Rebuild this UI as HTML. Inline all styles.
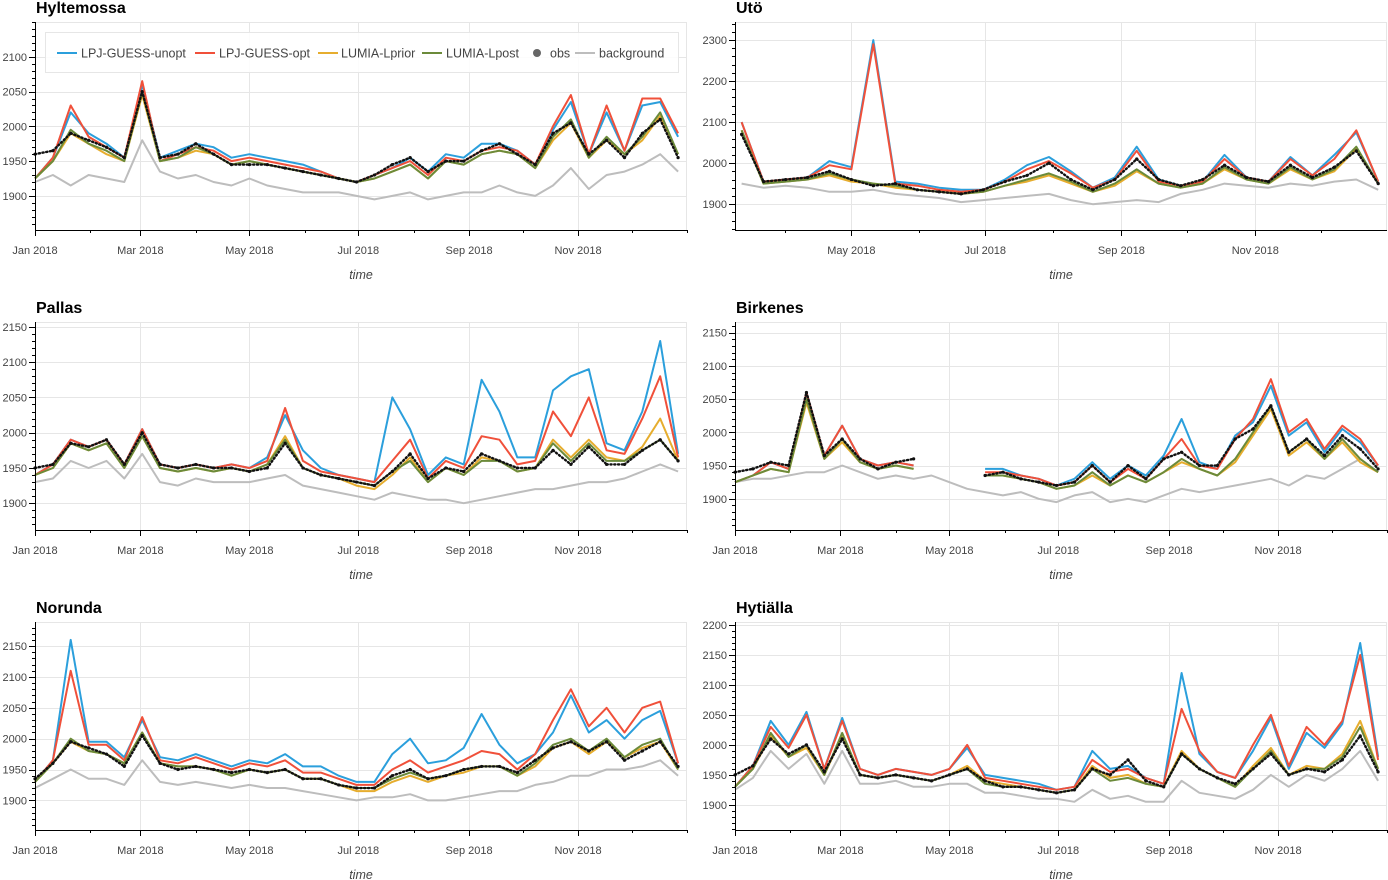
<!DOCTYPE html>
<html><head><meta charset="utf-8">
<style>
html,body{margin:0;padding:0;background:#fff;}
svg{display:block;font-family:"Liberation Sans",sans-serif;}
</style></head>
<body>
<svg id="chart" width="1388" height="880" viewBox="0 0 1388 880" xmlns="http://www.w3.org/2000/svg"></svg>
<script>
// ---- data (day-of-year grids) ----
const daysFull = [0,10,20,30,40,50,60,70,80,90,100,110,120,130,140,150,160,170,180,190,200,210,220,230,240,250,260,270,280,290,300,310,320,330,340,350,360];
const daysUto = [70,80,90,100,110,120,130,140,150,160,170,180,190,200,210,220,230,240,250,260,270,280,290,300,310,320,330,340,350,360];
const monthStarts = [0,31,59,90,120,151,181,212,243,273,304,334,365];
const monthLabels = ["Jan 2018","","Mar 2018","","May 2018","","Jul 2018","","Sep 2018","","Nov 2018","",""];
const seriesNames = ["LPJ-GUESS-unopt","LPJ-GUESS-opt","LUMIA-Lprior","LUMIA-Lpost","obs","background"];

const hylUnopt=[1925,1955,2020,1990,1975,1955,2060,1955,1965,1975,1970,1955,1960,1955,1950,1945,1935,1925,1920,1930,1940,1955,1935,1960,1955,1975,1975,1965,1945,1995,2035,1960,2020,1965,2030,2035,1985];
const hylOpt=[1925,1955,2030,1985,1970,1955,2065,1950,1960,1970,1965,1950,1955,1950,1945,1940,1935,1925,1920,1930,1940,1950,1930,1955,1950,1965,1970,1965,1945,2000,2045,1960,2030,1965,2040,2040,1990];
const hylPrior=[1925,1950,1990,1975,1960,1950,2045,1950,1955,1965,1960,1945,1950,1945,1940,1935,1930,1925,1920,1925,1935,1945,1925,1950,1945,1960,1965,1960,1940,1980,2005,1955,1980,1960,1980,2015,1960];
const hylPost=[1925,1950,1995,1975,1965,1950,2050,1950,1955,1970,1960,1945,1950,1945,1940,1935,1930,1925,1920,1925,1935,1945,1925,1950,1945,1960,1965,1960,1940,1985,2010,1955,1985,1960,1985,2020,1960];
const hylObs=[1960,1965,1990,1980,1970,1955,2050,1955,1960,1975,1960,1945,1945,1945,1940,1935,1930,1925,1920,1930,1945,1955,1935,1950,1950,1965,1975,1960,1945,1990,2005,1960,1980,1955,1990,2010,1955];
const hylBg=[1920,1930,1915,1930,1925,1920,1980,1935,1925,1930,1920,1915,1925,1915,1910,1905,1905,1905,1900,1895,1900,1905,1895,1900,1905,1905,1915,1905,1900,1915,1940,1910,1930,1935,1945,1960,1935];

const utoUnopt=[2100,1955,1960,1965,2005,1990,2300,1955,1950,1940,1935,1935,1960,1995,2015,1980,1940,1965,2040,1960,1945,1955,2020,1965,1955,2015,1970,2020,2075,1955];
const utoOpt=[2100,1955,1960,1965,1995,1985,2290,1950,1945,1935,1930,1935,1955,1985,2005,1975,1940,1960,2030,1955,1945,1955,2010,1965,1955,2010,1970,2010,2080,1955];
const utoPrior=[2080,1950,1955,1960,1970,1955,1950,1940,1935,1930,1925,1930,1945,1955,1970,1950,1930,1945,1980,1950,1940,1950,1985,1960,1950,1985,1960,1980,2035,1950];
const utoPost=[2080,1950,1955,1960,1975,1960,1950,1945,1935,1930,1925,1930,1945,1960,1975,1955,1930,1950,1985,1950,1940,1950,1990,1960,1950,1990,1960,1985,2040,1950];
const utoObs=[2070,1955,1960,1965,1980,1960,1945,1950,1935,1930,1925,1935,1955,1970,2000,1960,1935,1960,2010,1960,1945,1960,1995,1965,1955,1995,1965,1990,2030,1950];
const utoBg=[1950,1940,1945,1940,1930,1930,1935,1925,1920,1915,1905,1910,1915,1920,1925,1910,1900,1905,1910,1905,1925,1935,1950,1945,1940,1950,1945,1955,1960,1935];

const palUnopt=[1940,1955,1990,1980,1990,1955,2005,1955,1950,1955,1950,1955,1950,1965,2025,1975,1950,1940,1935,1930,2050,2005,1940,1965,1955,2075,2030,1965,1965,2060,2080,2090,1985,1975,2030,2130,1970];
const palOpt=[1940,1955,1990,1980,1990,1955,2005,1955,1950,1955,1950,1955,1950,1960,2035,1960,1945,1940,1935,1930,1960,1990,1935,1960,1950,1995,1990,1955,1960,2030,1995,2050,1975,1970,2020,2080,1965];
const palPrior=[1940,1950,1985,1975,1985,1950,1995,1950,1945,1950,1945,1950,1945,1955,1995,1950,1940,1935,1925,1920,1940,1965,1930,1950,1940,1965,1960,1945,1950,1990,1965,1990,1965,1960,1980,2020,1960];
const palPost=[1940,1950,1985,1975,1985,1950,1995,1950,1945,1950,1945,1950,1945,1955,1990,1950,1940,1935,1930,1925,1945,1960,1930,1950,1940,1960,1960,1945,1950,1985,1960,1985,1960,1960,1975,1990,1960];
const palObs=[1950,1955,1985,1980,1990,1955,2000,1955,1950,1955,1950,1950,1945,1950,1985,1950,1940,1935,1930,1925,1945,1970,1935,1950,1945,1970,1960,1950,1950,1975,1955,1980,1955,1955,1975,1990,1960];
const palBg=[1930,1935,1960,1950,1960,1935,1970,1930,1925,1935,1930,1930,1930,1935,1940,1925,1920,1915,1910,1905,1915,1910,1905,1905,1900,1905,1910,1915,1920,1920,1925,1930,1930,1935,1945,1955,1945];

const birUnopt=[1925,1935,1955,1945,2060,1965,2010,1960,1950,1955,1950,null,null,null,1945,1945,1935,1930,1920,1930,1955,1930,1950,1935,1965,2020,1955,1945,1995,2015,2070,1995,2015,1970,2005,1985,1950];
const birOpt=[1925,1935,1955,1945,2060,1965,2010,1960,1950,1955,1950,null,null,null,1940,1940,1935,1930,1920,1925,1950,1925,1945,1930,1960,1990,1950,1945,1990,2020,2080,2000,2020,1975,2010,1990,1950];
const birPrior=[1925,1935,1945,1940,2045,1960,1985,1955,1945,1950,1945,null,null,null,1935,1935,1930,1925,1915,1920,1935,1920,1935,1925,1940,1955,1945,1935,1955,1995,2035,1965,1985,1960,1985,1955,1940];
const birPost=[1925,1935,1945,1940,2050,1960,1990,1955,1945,1950,1945,null,null,null,1935,1935,1930,1925,1915,1920,1940,1920,1935,1925,1940,1960,1945,1935,1960,2000,2040,1970,1990,1960,1990,1960,1940];
const birObs=[1940,1945,1955,1950,2060,1965,1990,1960,1945,1955,1960,null,null,null,1935,1940,1930,1925,1920,1925,1950,1925,1950,1930,1960,1970,1950,1950,1990,2005,2040,1970,1990,1965,1995,1975,1945];
const birBg=[1925,1930,1930,1935,1940,1940,1950,1940,1930,1935,1930,1935,1925,1915,1910,1905,1910,1900,1895,1905,1910,1895,1900,1895,1905,1915,1910,1915,1920,1925,1930,1920,1935,1930,1945,1960,1940];

const norUnopt=[1930,1965,2160,1995,1995,1970,2030,1970,1965,1975,1965,1955,1965,1960,1975,1955,1955,1940,1930,1930,1975,2000,1960,1965,1985,2040,1990,1960,1975,2010,2070,2010,2030,2000,2030,2045,1960];
const norOpt=[1930,1965,2110,1990,1990,1965,2035,1965,1960,1970,1960,1950,1960,1955,1965,1945,1945,1935,1925,1925,1950,1965,1945,1955,1965,1980,1975,1950,1975,2030,2080,2020,2050,2010,2050,2060,1960];
const norPrior=[1930,1960,1995,1980,1975,1960,2010,1960,1955,1955,1950,1940,1950,1945,1950,1935,1935,1925,1915,1915,1930,1940,1930,1940,1945,1955,1955,1940,1955,1985,1995,1975,1995,1970,1985,1995,1950];
const norPost=[1930,1960,2000,1980,1975,1960,2010,1960,1955,1955,1950,1940,1950,1945,1950,1935,1935,1925,1920,1920,1935,1945,1935,1940,1950,1955,1955,1940,1960,1990,2000,1980,2000,1970,1990,2000,1950];
const norObs=[1935,1960,1995,1985,1975,1955,2005,1960,1950,1955,1950,1945,1950,1945,1950,1935,1935,1925,1920,1920,1940,1950,1935,1940,1950,1955,1955,1945,1965,1985,1995,1980,1995,1965,1980,1995,1955];
const norBg=[1920,1935,1950,1935,1935,1925,1965,1930,1925,1930,1925,1920,1925,1920,1920,1915,1910,1905,1900,1905,1905,1910,1900,1900,1905,1910,1915,1915,1925,1930,1940,1940,1950,1950,1955,1965,1940];

const hytUnopt=[1930,1965,2040,2000,2055,1960,2045,1960,1950,1960,1955,1950,1960,1995,1950,1945,1940,1935,1925,1930,1990,1960,1965,1945,1935,2120,1985,1955,1945,1990,2045,1960,2020,1995,2035,2170,1980];
const hytOpt=[1930,1965,2030,1995,2050,1960,2040,1960,1950,1960,1955,1950,1960,2000,1945,1940,1935,1930,1925,1930,1975,1955,1960,1945,1935,2060,1990,1955,1945,2000,2050,1965,2030,2000,2040,2150,1975];
const hytPrior=[1930,1960,2015,1980,1995,1950,2015,1950,1945,1950,1945,1940,1950,1965,1940,1935,1930,1925,1920,1925,1965,1945,1950,1935,1930,1990,1960,1945,1930,1965,1995,1950,1965,1960,1985,2040,1960];
const hytPost=[1930,1960,2020,1980,2000,1950,2020,1950,1945,1950,1945,1940,1950,1960,1935,1930,1930,1925,1920,1925,1960,1940,1945,1935,1930,1985,1960,1945,1930,1960,1990,1950,1960,1960,1980,2030,1960];
const hytObs=[1950,1965,2010,1985,2000,1955,2010,1950,1945,1950,1945,1940,1950,1960,1940,1930,1930,1925,1920,1925,1960,1950,1975,1940,1930,1985,1960,1945,1935,1960,1985,1950,1960,1955,1975,2015,1955];
const hytBg=[1925,1945,1990,1960,1985,1935,1990,1935,1935,1940,1930,1930,1935,1935,1920,1920,1915,1910,1910,1905,1925,1910,1915,1905,1905,1940,1920,1915,1910,1925,1950,1930,1950,1940,1960,1990,1940];

const hylTicks=[1900,1950,2000,2050,2100];
const utoTicks=[1900,2000,2100,2200,2300];
const palTicks=[1900,1950,2000,2050,2100,2150];
const birTicks=[1900,1950,2000,2050,2100,2150];
const norTicks=[1900,1950,2000,2050,2100,2150];
const hytTicks=[1900,1950,2000,2050,2100,2150,2200];

// ---- rendering ----
const svg=document.getElementById('chart');
const NS='http://www.w3.org/2000/svg';
function mk(tag,attrs,parent){const e=document.createElementNS(NS,tag);for(const k in attrs)e.setAttribute(k,attrs[k]);(parent||svg).appendChild(e);return e;}
const colors=['#2b9fdc','#f0503a','#e6ad2e','#6b8a3a','#111','#bdbdbd'];

const panels=[
 {name:'Hyltemossa',slug:'hyltemossa',x0:35,x1:687,y0:22,y1:230,d0:0,d1:365,v0:1851,v1:2150,minor:10,days:daysFull,ticks:hylTicks,s:[hylUnopt,hylOpt,hylPrior,hylPost,hylObs,hylBg],legend:true},
 {name:'Utö',slug:'uto',x0:735,x1:1387,y0:22,y1:230,d0:67,d1:364,v0:1837,v1:2344,minor:20,days:daysUto,ticks:utoTicks,s:[utoUnopt,utoOpt,utoPrior,utoPost,utoObs,utoBg]},
 {name:'Pallas',slug:'pallas',x0:35,x1:687,y0:322,y1:530,d0:0,d1:365,v0:1862,v1:2157,minor:10,days:daysFull,ticks:palTicks,s:[palUnopt,palOpt,palPrior,palPost,palObs,palBg]},
 {name:'Birkenes',slug:'birkenes',x0:735,x1:1387,y0:322,y1:530,d0:0,d1:365,v0:1853,v1:2166,minor:10,days:daysFull,ticks:birTicks,s:[birUnopt,birOpt,birPrior,birPost,birObs,birBg]},
 {name:'Norunda',slug:'norunda',x0:35,x1:687,y0:622,y1:830,d0:0,d1:365,v0:1852,v1:2189,minor:10,days:daysFull,ticks:norTicks,s:[norUnopt,norOpt,norPrior,norPost,norObs,norBg]},
 {name:'Hytiälla',slug:'hytialla',x0:735,x1:1387,y0:622,y1:830,d0:0,d1:365,v0:1858,v1:2205,minor:10,days:daysFull,ticks:hytTicks,s:[hytUnopt,hytOpt,hytPrior,hytPost,hytObs,hytBg]}
];

panels.forEach(p=>{
  const g=mk('g',{});
  
  
  const X=d=>p.x0+(d-p.d0)/(p.d1-p.d0)*(p.x1-p.x0);
  const Y=v=>p.y1-(v-p.v0)/(p.v1-p.v0)*(p.y1-p.y0);
  // plot background + grid
  const grid=mk('g',{stroke:'#e6e6e6','stroke-width':1},g);
  
  
  p.ticks.forEach(v=>{const y=Math.round(Y(v))+0.5;mk('line',{x1:p.x0,x2:p.x1,y1:y,y2:y},grid);});
  mk('line',{x1:p.x0,x2:p.x1,y1:p.y0+0.5,y2:p.y0+0.5},grid);
  mk('line',{x1:p.x1-0.5,x2:p.x1-0.5,y1:p.y0,y2:p.y1},grid);
  monthStarts.forEach((m,i)=>{if(monthLabels[i]&&m>=p.d0&&m<=p.d1){const x=Math.round(X(m))+0.5;mk('line',{x1:x,x2:x,y1:p.y0,y2:p.y1},grid);}});
  // series
  const order=[5,0,1,2,3];
  order.forEach(si=>{
    const arr=p.s[si];
    let segs=[],cur=[];
    arr.forEach((v,i)=>{
      if(v===null){ if(si!==5){if(cur.length)segs.push(cur);cur=[];} return; }
      cur.push(X(p.days[i]).toFixed(1)+','+Y(v).toFixed(1));
    });
    if(cur.length)segs.push(cur);
    segs.forEach(sg=>{
      const pl=mk('polyline',{points:sg.join(' '),fill:'none',stroke:colors[si],'stroke-width':2,'stroke-linejoin':'round'},g);
      
      
    });
  });
  // obs dots
  const og=mk('g',{fill:'#111'},g);
  
  
  let prev=null;
  p.s[4].forEach((v,i)=>{
    if(v===null){prev=null;return;}
    const pt=[X(p.days[i]),Y(v)];
    if(prev){
      const seg=mk('line',{x1:prev[0],y1:prev[1],x2:pt[0],y2:pt[1],stroke:'#111','stroke-width':2.4,'stroke-dasharray':'1.2 2.6','stroke-linecap':'round'},og);
      
      
    }
    const c=mk('circle',{cx:pt[0],cy:pt[1],r:1.6},og);
    
    
    prev=pt;
  });
  // axes
  const ax=mk('g',{stroke:'#000','stroke-width':1},g);
  
  
  mk('line',{x1:p.x0+0.5,x2:p.x0+0.5,y1:p.y0,y2:p.y1},ax);
  mk('line',{x1:p.x0,x2:p.x1,y1:p.y1+0.5,y2:p.y1+0.5},ax);
  for(let v=Math.ceil(p.v0/p.minor)*p.minor;v<=p.v1;v+=p.minor){
    const y=Math.round(Y(v))+0.5;
    const major=p.ticks.indexOf(v)>=0;
    mk('line',{x1:p.x0-(major?6:3),x2:p.x0,y1:y,y2:y},ax);
  }
  monthStarts.forEach((m,i)=>{if(m>=p.d0&&m<=p.d1){const x=Math.round(X(m))+0.5;mk('line',{x1:x,x2:x,y1:p.y1,y2:p.y1+(monthLabels[i]?6:3)},ax);}});
  // tick labels
  p.ticks.forEach(v=>{
    const t=mk('text',{x:p.x0-8,y:Y(v)+4,'text-anchor':'end','font-size':11,fill:'#444'},g);
    t.textContent=v;
    
    
  });
  monthStarts.forEach((m,i)=>{
    if(monthLabels[i]&&m>=p.d0&&m<=p.d1){
      const t=mk('text',{x:X(m),y:p.y1+24,'text-anchor':'middle','font-size':11,fill:'#444'},g);
      t.textContent=monthLabels[i];
      
      
    }
  });
  const xt=mk('text',{x:(p.x0+p.x1)/2,y:p.y1+49,'text-anchor':'middle','font-size':12.5,'font-style':'italic',fill:'#444'},g);
  xt.textContent='time';
  
  
  const tt=mk('text',{x:p.x0+1,y:p.y0-9,'font-size':16,'font-weight':'bold',fill:'#000'},g);
  tt.textContent=p.name;
  
  

  if(p.legend){
    const lg=mk('g',{},g);
    
    
    mk('rect',{x:45.5,y:32.5,width:633,height:40,fill:'rgba(255,255,255,0.85)',stroke:'#e6e6e6'},lg);
    const items=[[57,81],[195,219],[318,341],[422,446],[537,550],[575,599]];
    items.forEach((it,i)=>{
      const e=mk('g',{},lg);
      
      
      if(i===4) mk('circle',{cx:it[0],cy:53,r:4,fill:'#666'},e);
      else mk('line',{x1:it[0],x2:it[0]+20,y1:53,y2:53,stroke:colors[i],'stroke-width':2},e);
      const t=mk('text',{x:it[1],y:57.5,'font-size':12.5,fill:'#444'},e);
      t.textContent=seriesNames[i];
    });
  }
});
</script>
</body></html>
